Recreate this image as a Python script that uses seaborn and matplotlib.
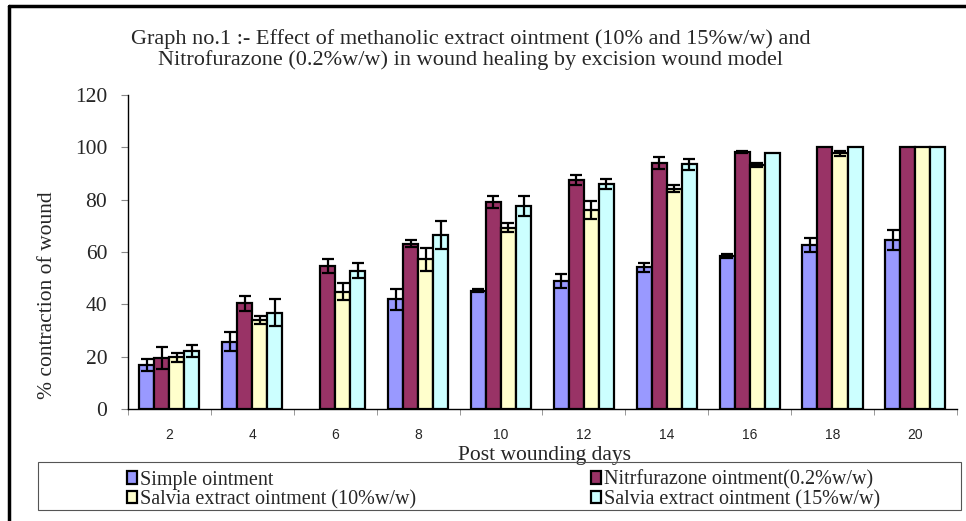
import numpy as np
import pandas as pd
import seaborn as sns
import matplotlib.pyplot as plt
from matplotlib.patches import Rectangle
from matplotlib.lines import Line2D

# values
days = [2, 4, 6, 8, 10, 12, 14, 16, 18, 20]
series = ["Simple ointment", "Nitrfurazone ointment(0.2%w/w)",
          "Salvia extract ointment (10%w/w)", "Salvia extract ointment (15%w/w)"]
simple = [16.8, 25.7, 0, 41.9, 45.2, 49.0, 54.1, 58.5, 62.6, 64.5]
simple_err = [2.2, 3.6, 0, 3.9, 0.6, 2.7, 1.6, 0.7, 2.7, 3.7]
nitro = [19.3, 40.3, 54.6, 63.2, 79.0, 87.4, 94.0, 98.2, 100, 100]
nitro_err = [4.2, 2.7, 2.8, 1.5, 2.3, 2.0, 2.4, 0.3, 0, 0]
salvia10 = [19.7, 34.0, 44.8, 57.1, 69.3, 76.0, 84.2, 93.1, 97.6, 100]
salvia10_err = [1.8, 1.6, 3.3, 4.3, 1.8, 3.5, 1.4, 0.8, 0.8, 0]
salvia15 = [22.1, 36.8, 52.8, 66.4, 77.6, 85.9, 93.4, 97.8, 100, 100]
salvia15_err = [2.2, 5.2, 2.9, 5.3, 3.8, 2.0, 2.2, 0, 0, 0]
colors = ["#9999FF", "#993366", "#FFFFCC", "#CCFFFF"]

values = [simple, nitro, salvia10, salvia15]
errors = [simple_err, nitro_err, salvia10_err, salvia15_err]

df = pd.DataFrame({
    "day": [str(d) for d in days] * 4,
    "group": np.repeat(series, len(days)),
    "value": np.concatenate(values),
})

sns.set_style("white")
plt.rcParams["font.family"] = ["Liberation Serif", "DejaVu Serif"]

fig = plt.figure(figsize=(9.66, 5.21), dpi=100)
ax = fig.add_axes([0.1325, 0.215, 0.858, 0.603])

sns.barplot(data=df, x="day", y="value", hue="group", hue_order=series,
            palette=colors, width=0.725, edgecolor="black", linewidth=1.6,
            saturation=1, errorbar=None, legend=False, ax=ax)

# error bars from the read values
for cont, err in zip(ax.containers, errors):
    for bar, e in zip(cont, err):
        h = bar.get_height()
        if h == 0:
            bar.set_visible(False)
            continue
        if e > 0:
            ax.errorbar(bar.get_x() + bar.get_width() / 2, h, yerr=e,
                        fmt="none", ecolor="black", elinewidth=1.6,
                        capsize=4.3, capthick=1.6, zorder=5)

ax.set_ylim(0, 120)
ax.set_xlim(-0.5, len(days) - 0.5)
ax.set_yticks(range(0, 121, 20))
ax.tick_params(axis="y", labelsize=15.5, length=5, color="#888888", direction="out", left=True, pad=10)
ax.set_xticks(np.arange(len(days)))
ax.set_xticklabels([str(d) for d in days], family="Liberation Sans", fontsize=10)
ax.tick_params(axis="x", length=0, pad=14)
ax.set_xticks(np.arange(len(days) + 1) - 0.5, minor=True)
ax.tick_params(axis="x", which="minor", length=4, color="#888888", direction="out", bottom=True)

for s in ["top", "right"]:
    ax.spines[s].set_visible(False)
for s in ["left", "bottom"]:
    ax.spines[s].set_color("black")
    ax.spines[s].set_linewidth(1.0)

ax.set_xlabel("Post wounding days", fontsize=15.5)
ax.xaxis.set_label_coords(0.503, -0.119)
ax.set_ylabel("% contraction of wound", fontsize=15.5)
ax.yaxis.set_label_coords(-0.086, 0.363)

fig.text(0.487, 0.905, "Graph no.1 :- Effect of methanolic extract ointment (10% and 15%w/w) and\n"
         "Nitrofurazone (0.2%w/w) in wound healing by excision wound model",
         ha="center", va="center", fontsize=16, linespacing=1.1)

# legend, filled row by row like the reference
order = [0, 2, 1, 3]
handles = [Rectangle((0, 0), 1, 1, facecolor=colors[i], edgecolor="black", linewidth=1.6) for i in order]
fig.legend(handles, [series[i] for i in order], ncol=2, loc="lower left", mode="expand",
           bbox_to_anchor=(0.1315, 0.023, 0.78, 0.079), bbox_transform=fig.transFigure,
           frameon=False, fontsize=14.5, handlelength=0.5, handleheight=0.6,
           handletextpad=0.15, labelspacing=0.0, borderaxespad=0, borderpad=0)
fig.patches.append(Rectangle((0.039, 0.021), 0.956, 0.092, transform=fig.transFigure,
                             facecolor="none", edgecolor="#555555", linewidth=0.8))

# outer frame (left and top edges)
fig.add_artist(Line2D([0.0095, 0.0095], [0.0, 0.988], transform=fig.transFigure, color="black", linewidth=2.5))
fig.add_artist(Line2D([0.0095, 1.0], [0.988, 0.988], transform=fig.transFigure, color="black", linewidth=2.5))

fig.savefig("out.png", dpi=100)
